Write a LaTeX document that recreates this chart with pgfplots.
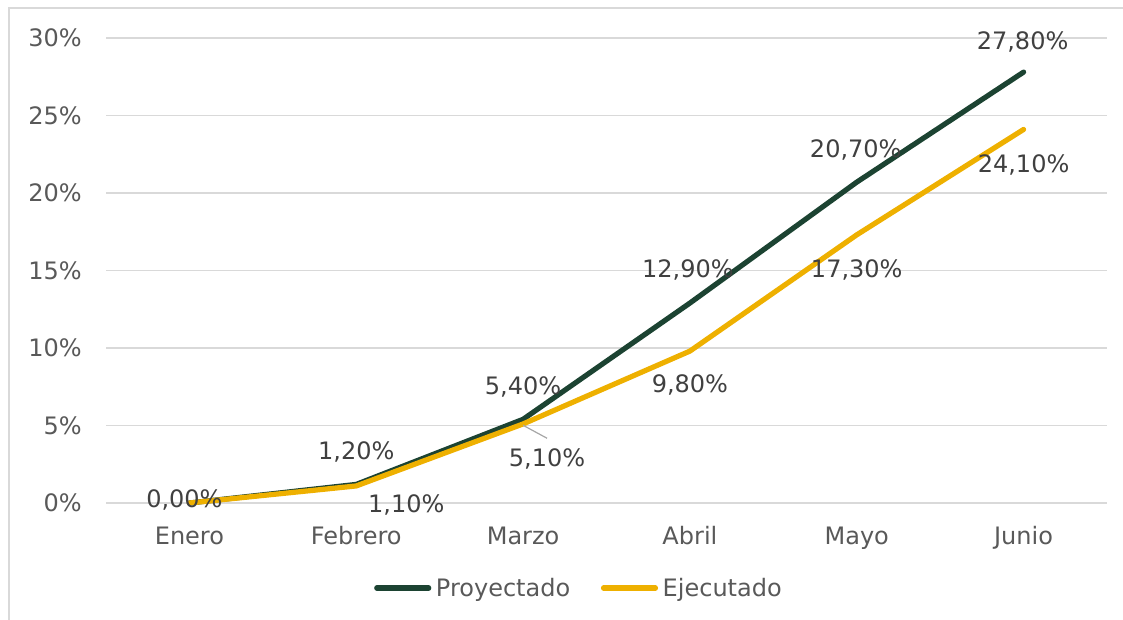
\documentclass[border=0pt]{standalone}
\usepackage{pgfplots}
\usepackage{pgfplotstable}
\pgfplotsset{compat=1.18}
\usepackage{fontspec}
\setmainfont{DejaVu Sans}
\definecolor{proy}{HTML}{1C4332}
\definecolor{ejec}{HTML}{EEB000}
\definecolor{gridc}{HTML}{D9D9D9}
\definecolor{tickc}{HTML}{595959}
\definecolor{labc}{HTML}{404040}

\pgfplotstableread{
x y dx dy lab
0 0 -3.75 2.25 0,00
1 1.2 0 24 1,20
2 5.4 0 24 5,40
3 12.9 -1.5 24.75 12,90
4 20.7 -0.75 24 20,70
5 27.8 -0.75 22.5 27,80
}\proylab

\pgfplotstableread{
x y dx dy lab
1 1.1 37.5 -14.25 1,10
2 5.1 18 -26.25 5,10
3 9.8 0 -25.5 9,80
4 17.3 0 -26.25 17,30
5 24.1 0 -27 24,10
}\ejeclab

\begin{document}
\begin{tikzpicture}
\useasboundingbox (0,0) rectangle (842.25pt,465pt);
\draw[gridc, line width=1.5pt] (6.75pt,-5pt) -- (6.75pt,459pt) -- (850pt,459pt);
\begin{axis}[
  at={(79.5pt,87.75pt)}, anchor=south west,
  scale only axis, width=750.75pt, height=348.75pt,
  xmin=-0.5, xmax=5.5, ymin=0, ymax=30,
  xtick={0,...,5}, xticklabels={Enero,Febrero,Marzo,Abril,Mayo,Junio},
  ytick={0,5,...,30}, yticklabels={0\%,5\%,10\%,15\%,20\%,25\%,30\%},
  axis line style={draw=none}, major tick length=0pt,
  ymajorgrids, grid style={gridc, line width=1.1pt},
  tick label style={font=\fontsize{18}{21}\selectfont, text=tickc},
  xticklabel style={anchor=base, inner sep=0pt, yshift=-31pt},
  yticklabel style={anchor=east, inner sep=0pt, xshift=-18pt},
  legend columns=2,
  legend style={draw=none, fill=none, at={(0.4715,-0.183)}, anchor=center,
    font=\fontsize{18}{21}\selectfont, text=tickc,
    nodes={inner sep=0pt},
    /tikz/every odd column/.append style={column sep=3.5pt},
    /tikz/every even column/.append style={column sep=23pt}},
  legend image code/.code={\draw[#1, line cap=round] (1.9pt,0pt) -- (40.85pt,0pt);},
  clip=false,
]
\addplot[proy, line width=3.9pt, line join=round, line cap=round] coordinates {(0,0) (1,1.2) (2,5.4) (3,12.9) (4,20.7) (5,27.8)};
\addlegendentry{Proyectado}
\addplot[ejec, line width=3.9pt, line join=round, line cap=round] coordinates {(0,0) (1,1.1) (2,5.1) (3,9.8) (4,17.3) (5,24.1)};
\addlegendentry{Ejecutado}
\draw[color=gray!70, line width=0.9pt] (axis cs:2,5.1) ++(0pt,-1pt) -- ++(18pt,-9.75pt);
\addplot[draw=none, forget plot, nodes near coords={\pgfplotspointmeta\%}, point meta=explicit symbolic,
  visualization depends on={\thisrow{dx}\as\dx},
  visualization depends on={\thisrow{dy}\as\dy},
  every node near coord/.append style={anchor=center, xshift=\dx*1pt, yshift=\dy*1pt,
    font=\fontsize{18}{21}\selectfont, text=labc, inner sep=0pt}]
  table[x=x, y=y, meta=lab] {\proylab};
\addplot[draw=none, forget plot, nodes near coords={\pgfplotspointmeta\%}, point meta=explicit symbolic,
  visualization depends on={\thisrow{dx}\as\dx},
  visualization depends on={\thisrow{dy}\as\dy},
  every node near coord/.append style={anchor=center, xshift=\dx*1pt, yshift=\dy*1pt,
    font=\fontsize{18}{21}\selectfont, text=labc, inner sep=0pt}]
  table[x=x, y=y, meta=lab] {\ejeclab};
\end{axis}
\end{tikzpicture}
\end{document}
